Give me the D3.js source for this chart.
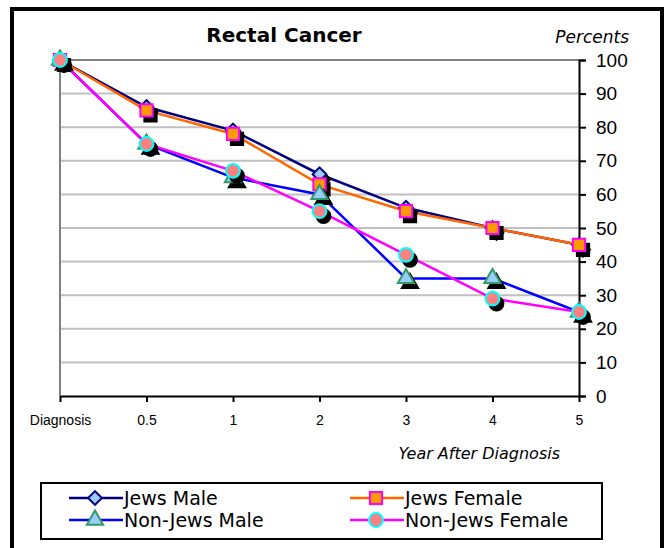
<!DOCTYPE html>
<html>
<head>
<meta charset="utf-8">
<script src="https://cdn.jsdelivr.net/npm/d3@7"></script>
<style>
  body { margin: 0; background: #fff; }
  svg { display: block; font-family: Tahoma, Verdana, "DejaVu Sans", sans-serif; }
</style>
</head>
<body>
<div id="chart"></div>
<script>
const categories = ["Diagnosis", "0.5", "1", "2", "3", "4", "5"];
const jewsMale = [100, 86, 79, 66, 56, 50, 45];
const jewsFemale = [100, 85, 78, 63, 55, 50, 45];
const nonJewsMale = [100, 75, 65, 60, 35, 35, 25];
const nonJewsFemale = [100, 75, 67, 55, 42, 29, 25];
const yTicks = [0, 10, 20, 30, 40, 50, 60, 70, 80, 90, 100];

const series = [
  { name: "Jews Male", values: jewsMale, line: "#000080", fill: "#99ccff", stroke: "#000080", shape: d3.symbolSquare, size: 95, rot: 45 },
  { name: "Jews Female", values: jewsFemale, line: "#ff6600", fill: "#ff9900", stroke: "#ff00ff", shape: d3.symbolSquare, size: 150, rot: 0 },
  { name: "Non-Jews Male", values: nonJewsMale, line: "#0000ff", fill: "#99ccff", stroke: "#339966", shape: d3.symbolTriangle, size: 115, rot: 0 },
  { name: "Non-Jews Female", values: nonJewsFemale, line: "#ff00ff", fill: "#ff8080", stroke: "#00ffff", shape: d3.symbolCircle, size: 150, rot: 0 }
];

const W = 668, H = 548;
const svg = d3.select("#chart").append("svg").attr("width", W).attr("height", H);

// outer frame (bottom edge runs off the picture)
svg.append("rect").attr("x", 12).attr("y", 9).attr("width", 650).attr("height", 560)
  .attr("fill", "#fff").attr("stroke", "#000").attr("stroke-width", 4);

const x = d3.scalePoint().domain(categories).range([60, 579]);
const y = d3.scaleLinear().domain([0, 100]).range([396, 60]);

// gridlines
svg.append("g").selectAll("line").data(yTicks.filter(d => d > 0)).join("line")
  .attr("x1", 60).attr("x2", 579)
  .attr("y1", d => y(d)).attr("y2", d => y(d))
  .attr("stroke", d => d === 100 ? "#808080" : "#c0c0c0").attr("stroke-width", 2);
svg.append("line").attr("x1", 60).attr("x2", 60).attr("y1", y(100)).attr("y2", y(0))
  .attr("stroke", "#808080").attr("stroke-width", 2);

// axes
const yAxis = svg.append("g").attr("transform", `translate(${x("5")},0)`)
  .call(d3.axisRight(y).tickValues(yTicks).tickSize(7).tickPadding(10));
yAxis.selectAll("text").attr("font-size", 19).attr("fill", "#000");
yAxis.selectAll("line, path").attr("stroke", "#000").attr("stroke-width", 2);

const xAxis = svg.append("g").attr("transform", `translate(0,${y(0)})`)
  .call(d3.axisBottom(x).tickSize(6).tickSizeOuter(0).tickPadding(13));
xAxis.selectAll("text").attr("font-size", 14).attr("fill", "#000");
xAxis.selectAll("line, path").attr("stroke", "#000").attr("stroke-width", 2);

// titles
svg.append("text").attr("x", 284).attr("y", 42).attr("text-anchor", "middle")
  .attr("font-size", 20).attr("font-weight", "bold").text("Rectal Cancer");
svg.append("text").attr("x", 629).attr("y", 43).attr("text-anchor", "end")
  .attr("font-size", 17).attr("font-style", "italic").text("Percents");
svg.append("text").attr("x", 560).attr("y", 459).attr("text-anchor", "end")
  .attr("font-size", 16).attr("font-style", "italic").text("Year After Diagnosis");

// lines
const line = d3.line().x((d, i) => x(categories[i])).y(d => y(d));
svg.append("g").selectAll("path").data(series).join("path")
  .attr("d", s => line(s.values))
  .attr("fill", "none").attr("stroke", s => s.line).attr("stroke-width", 2.5);

// markers with offset shadows
series.forEach(s => {
  const sym = d3.symbol().type(s.shape).size(s.size);
  const g = svg.append("g");
  g.selectAll(".shadow").data(s.values).join("path")
    .attr("class", "shadow")
    .attr("transform", (d, i) => `translate(${x(categories[i]) + 4},${y(d) + 5}) rotate(${s.rot})`)
    .attr("d", sym).attr("fill", "#000").attr("stroke", "#000").attr("stroke-width", 2);
  g.selectAll(".mark").data(s.values).join("path")
    .attr("class", "mark")
    .attr("transform", (d, i) => `translate(${x(categories[i])},${y(d)}) rotate(${s.rot})`)
    .attr("d", sym).attr("fill", s.fill).attr("stroke", s.stroke).attr("stroke-width", 2);
});

// legend
const legend = svg.append("g");
legend.append("rect").attr("x", 41).attr("y", 483).attr("width", 561).attr("height", 56)
  .attr("fill", "#fff").attr("stroke", "#000").attr("stroke-width", 2);
const legendPos = [[69, 498], [350, 498], [69, 520], [350, 520]];
series.forEach((s, i) => {
  const [lx, ly] = legendPos[i];
  const item = legend.append("g").attr("transform", `translate(${lx},${ly})`);
  item.append("line").attr("x1", 0).attr("x2", 54).attr("y1", 0).attr("y2", 0)
    .attr("stroke", s.line).attr("stroke-width", 2.5);
  item.append("path").attr("transform", `translate(26,0) rotate(${s.rot})`)
    .attr("d", d3.symbol().type(s.shape).size(s.size))
    .attr("fill", s.fill).attr("stroke", s.stroke).attr("stroke-width", 2);
  item.append("text").attr("x", 55).attr("y", 7).attr("font-size", 19).text(s.name);
});
</script>
</body>
</html>
